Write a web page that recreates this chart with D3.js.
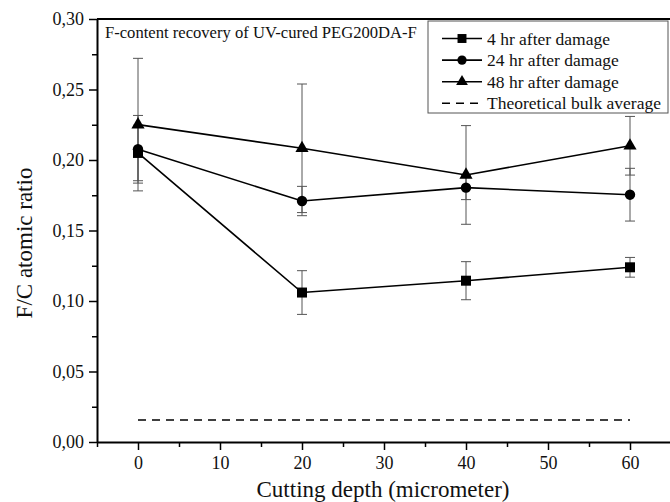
<!DOCTYPE html>
<html>
<head>
    <title>F-content recovery</title>
    <script src="https://d3js.org/d3.v7.min.js"></script>
    <style>
        body { margin: 0; background: #fff; }
        svg { font-family: "Liberation Serif", "Times New Roman", serif; }
        .domain { stroke-width: 2; }
        .tick line { stroke-width: 1.5; }
    </style>
</head>
<body>
    <svg id="chart" width="670" height="502"></svg>

    <script>
        // data
        var depths = [0, 20, 40, 60];
        var hr4 = [0.205, 0.106, 0.1144, 0.1239];
        var err4 = [0.0197, 0.0155, 0.0135, 0.007];
        var hr24 = [0.2076, 0.1709, 0.1804, 0.1754];
        var err24 = [0.024, 0.0104, 0.0085, 0.0187];
        var hr48 = [0.2251, 0.2083, 0.1894, 0.2101];
        var err48 = [0.047, 0.0456, 0.035, 0.0208];
        var bulkAverage = 0.0156;
        var legendLabels = ["4 hr after damage", "24 hr after damage", "48 hr after damage", "Theoretical bulk average"];
        var xTicks = [0, 10, 20, 30, 40, 50, 60];
        var yTicks = [0, 0.05, 0.10, 0.15, 0.20, 0.25, 0.30];

        var svg = d3.select("#chart");
        var x = d3.scaleLinear().domain([-5, 65]).range([97, 671]);
        var y = d3.scaleLinear().domain([0, 0.30]).range([442, 19]);

        var comma = function(d) { return d3.format(".2f")(d).replace(".", ","); };

        // frame (top / right)
        svg.append("path")
            .attr("d", "M97,19H671V442")
            .attr("fill", "none")
            .attr("stroke", "#000")
            .attr("stroke-width", 2);

        // minor ticks
        svg.append("g")
            .attr("transform", "translate(0,442)")
            .call(d3.axisBottom(x).tickValues([-5, 5, 15, 25, 35, 45, 55, 65]).tickSize(5).tickFormat(""))
            .call(function(g) { g.select(".domain").remove(); });
        svg.append("g")
            .attr("transform", "translate(97,0)")
            .call(d3.axisLeft(y).tickValues([0.025, 0.075, 0.125, 0.175, 0.225, 0.275]).tickSize(5).tickFormat(""))
            .call(function(g) { g.select(".domain").remove(); });

        // main axes
        svg.append("g")
            .attr("transform", "translate(0,442)")
            .call(d3.axisBottom(x).tickValues(xTicks).tickSize(8).tickPadding(6).tickSizeOuter(0))
            .call(function(g) {
                g.selectAll("text").attr("font-size", 18).attr("font-family", "Liberation Serif").attr("fill", "#111");
            });
        svg.append("g")
            .attr("transform", "translate(97,0)")
            .call(d3.axisLeft(y).tickValues(yTicks).tickSize(8).tickPadding(5).tickFormat(comma).tickSizeOuter(0))
            .call(function(g) {
                g.selectAll("text").attr("font-size", 18).attr("font-family", "Liberation Serif").attr("fill", "#111");
            });

        // axis titles
        svg.append("text")
            .attr("x", 383).attr("y", 497)
            .attr("text-anchor", "middle")
            .attr("font-size", 23)
            .attr("fill", "#111")
            .text("Cutting depth (micrometer)");
        svg.append("text")
            .attr("transform", "translate(32,243) rotate(-90)")
            .attr("text-anchor", "middle")
            .attr("font-size", 23)
            .attr("fill", "#111")
            .text("F/C atomic ratio");

        // inner title
        svg.append("text")
            .attr("x", 105).attr("y", 38)
            .attr("font-size", 16.6)
            .attr("fill", "#111")
            .text("F-content recovery of UV-cured PEG200DA-F");

        // theoretical bulk average
        svg.append("line")
            .attr("x1", x(0)).attr("x2", x(60))
            .attr("y1", y(bulkAverage)).attr("y2", y(bulkAverage))
            .attr("stroke", "#000")
            .attr("stroke-width", 1.5)
            .attr("stroke-dasharray", "8,6");

        var series = [
            { vals: hr4, errs: err4, symbol: d3.symbolSquare, size: 100 },
            { vals: hr24, errs: err24, symbol: d3.symbolCircle, size: 85 },
            { vals: hr48, errs: err48, symbol: d3.symbolTriangle, size: 75 }
        ];

        // error bars first, so markers sit on top
        series.forEach(function(s) {
            var eb = svg.append("g").attr("stroke", "#555").attr("stroke-width", 1);
            depths.forEach(function(d, i) {
                var lo = y(s.vals[i] - s.errs[i]), hi = y(s.vals[i] + s.errs[i]);
                eb.append("line").attr("x1", x(d)).attr("x2", x(d)).attr("y1", lo).attr("y2", hi);
                eb.append("line").attr("x1", x(d) - 5).attr("x2", x(d) + 5).attr("y1", lo).attr("y2", lo);
                eb.append("line").attr("x1", x(d) - 5).attr("x2", x(d) + 5).attr("y1", hi).attr("y2", hi);
            });
        });

        var line = d3.line()
            .x(function(d, i) { return x(depths[i]); })
            .y(function(d) { return y(d); });

        series.forEach(function(s) {
            svg.append("path")
                .datum(s.vals)
                .attr("d", line)
                .attr("fill", "none")
                .attr("stroke", "#000")
                .attr("stroke-width", 1.6);
            svg.append("g").selectAll("path")
                .data(s.vals)
                .join("path")
                .attr("transform", function(d, i) { return "translate(" + x(depths[i]) + "," + y(d) + ")"; })
                .attr("d", d3.symbol().type(s.symbol).size(s.size))
                .attr("fill", "#000");
        });

        // legend
        var lg = svg.append("g");
        lg.append("rect")
            .attr("x", 428).attr("y", 21)
            .attr("width", 240).attr("height", 92)
            .attr("fill", "#fff")
            .attr("stroke", "#555")
            .attr("stroke-width", 1);
        legendLabels.forEach(function(label, i) {
            var cy = 38.5 + i * 21.6;
            var ln = lg.append("line")
                .attr("x1", 442).attr("x2", 482)
                .attr("y1", cy).attr("y2", cy)
                .attr("stroke", "#000")
                .attr("stroke-width", 1.6);
            if (i < 3) {
                lg.append("path")
                    .attr("transform", "translate(462," + cy + ")")
                    .attr("d", d3.symbol().type(series[i].symbol).size(series[i].size * 0.8))
                    .attr("fill", "#000");
            } else {
                ln.attr("stroke-dasharray", "8,6").attr("x1", 442).attr("x2", 484);
            }
            lg.append("text")
                .attr("x", 487).attr("y", cy + 6)
                .attr("font-size", 17.5)
                .attr("fill", "#111")
                .text(label);
        });
    </script>
</body>
</html>
